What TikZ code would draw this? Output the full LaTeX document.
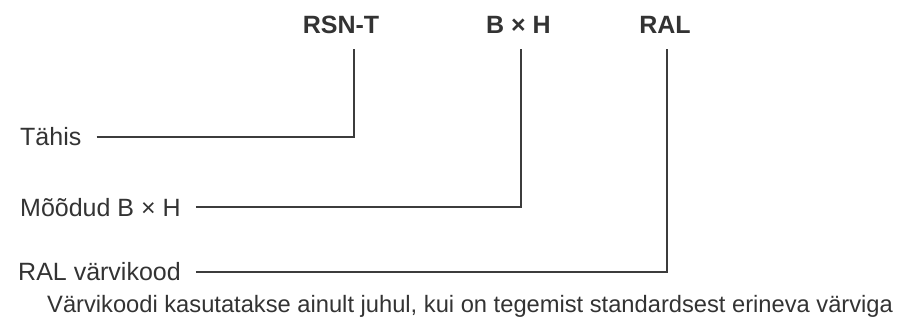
\documentclass[tikz,border=0pt]{standalone}
\usepackage{fontspec}
\setmainfont{Liberation Sans}
\definecolor{ink}{HTML}{333333}
\definecolor{wire}{HTML}{3C3C3C}
\begin{document}
\begin{tikzpicture}[x=1pt,y=-1pt,
  toplabel/.style={font=\fontsize{25}{30}\selectfont\bfseries, text=ink, inner sep=0pt, anchor=base},
  sidelabel/.style={font=\fontsize{25}{30}\selectfont, text=ink, inner sep=0pt, anchor=west},
  note/.style={font=\fontsize{23.7}{28}\selectfont, text=ink, inner sep=0pt, anchor=base west},
  wireline/.style={draw=wire, line width=2pt}]
\useasboundingbox (0,0) rectangle (912,322);
\node[toplabel] (rsn) at (341,33) {RSN-T};
\node[toplabel] (bh) at (518.5,33) {B × H};
\node[toplabel] (ral) at (665,33) {RAL};
\coordinate (c1) at (354,49);
\coordinate (c2) at (521,49);
\coordinate (c3) at (667,49);
\node[sidelabel] (tahis) at (20,136.7) {Tähis};
\node[sidelabel] (mood) at (20,207.3) {Mõõdud B × H};
\node[sidelabel] (ralv) at (18,271.5) {RAL värvikood};
\node[note] (nt) at (47,312) {Värvikoodi kasutatakse ainult juhul, kui on tegemist standardsest erineva värviga};
\draw[wireline] ([xshift=15pt]tahis.east) -| (c1);
\draw[wireline] ([xshift=15pt]mood.east) -| (c2);
\draw[wireline] ([xshift=15pt]ralv.east) -| (c3);
\end{tikzpicture}
\end{document}
